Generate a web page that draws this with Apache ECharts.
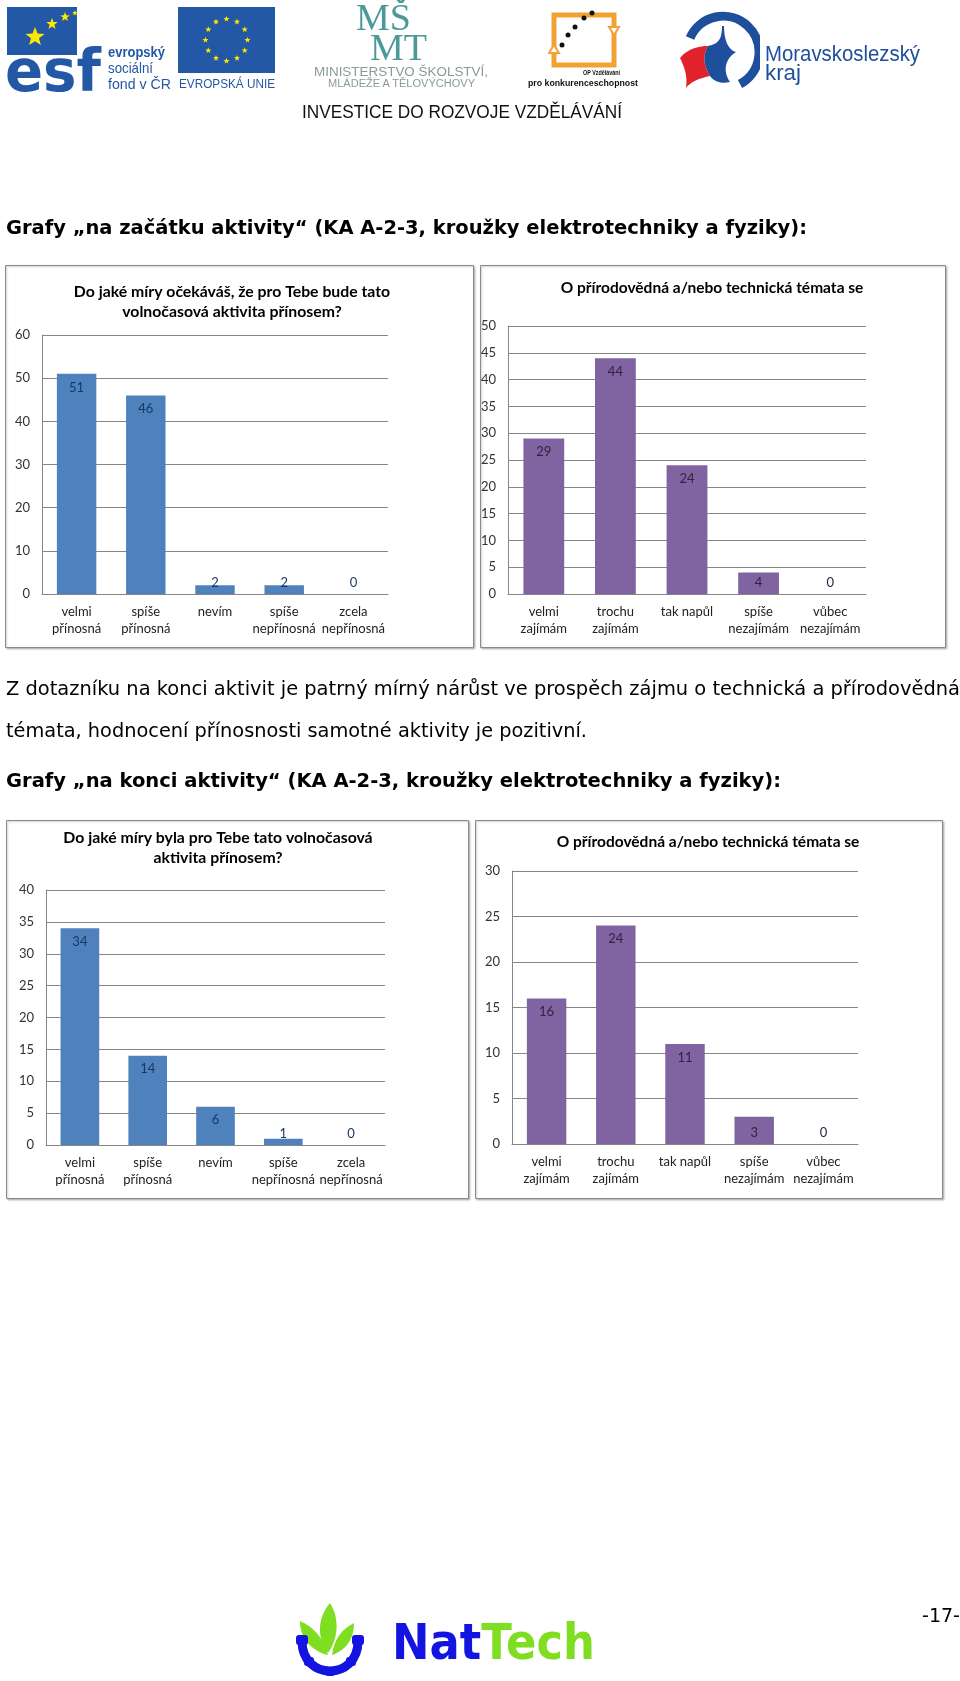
<!DOCTYPE html>
<html>
<head>
<meta charset="utf-8">
<script src="https://cdn.jsdelivr.net/npm/echarts@6/dist/echarts.min.js"></script>
<style>
  html, body { margin: 0; padding: 0; background: #fff; }
  #page { position: relative; width: 960px; height: 1681px; overflow: hidden; background: #fff; }
  #chart { position: absolute; left: 0; top: 0; width: 960px; height: 1681px; }
  .t { position: absolute; white-space: nowrap; transform-origin: 0 50%; display: inline-block; }
  svg { position: absolute; }
</style>
</head>
<body>
<div id="page">
  <div id="chart"></div>
</div>
<script>
// ---------------- DATA ----------------
const title1 = 'Do jaké míry očekáváš, že pro Tebe bude tato\nvolnočasová aktivita přínosem?';
const title2 = 'O přírodovědná a/nebo technická témata se';
const title3 = 'Do jaké míry byla pro Tebe tato volnočasová\naktivita přínosem?';
const title4 = 'O přírodovědná a/nebo technická témata se';

const catsBenefit = ['velmi\npřínosná', 'spíše\npřínosná', 'nevím', 'spíše\nnepřínosná', 'zcela\nnepřínosná'];
const catsInterest = ['velmi\nzajímám', 'trochu\nzajímám', 'tak napůl', 'spíše\nnezajímám', 'vůbec\nnezajímám'];

const valsStartBenefit = [51, 46, 2, 2, 0];
const valsStartInterest = [29, 44, 24, 4, 0];
const valsEndBenefit = [34, 14, 6, 1, 0];
const valsEndInterest = [16, 24, 11, 3, 0];

const yMax = [60, 50, 40, 30];
const yStep = [10, 5, 5, 5];

const heading1 = 'Grafy „na začátku aktivity“ (KA A-2-3, kroužky elektrotechniky a fyziky):';
const para1 = 'Z dotazníku na konci aktivit je patrný mírný nárůst ve prospěch zájmu o technická a přírodovědná';
const para2 = 'témata, hodnocení přínosnosti samotné aktivity je pozitivní.';
const heading2 = 'Grafy „na konci aktivity“ (KA A-2-3, kroužky elektrotechniky a fyziky):';
const pageNo = '-17-';

// ---------------- LAYOUT ----------------
const BLUE = '#4F81BD', PURPLE = '#8064A2';
const panels = [
  { title: title1, cats: catsBenefit, vals: valsStartBenefit, color: BLUE, lbl: '#17375E', fs: 15.8,
    grid: { left: 42, top: 335, width: 346, height: 259 }, box: [5, 265, 468, 382], tx: 232, ty: 282 },
  { title: title2, cats: catsInterest, vals: valsStartInterest, color: PURPLE, lbl: '#2E2340', fs: 15.5,
    grid: { left: 508, top: 326, width: 358, height: 268 }, box: [480, 265, 465, 382], tx: 712, ty: 278 },
  { title: title3, cats: catsBenefit, vals: valsEndBenefit, color: BLUE, lbl: '#17375E', fs: 15.8,
    grid: { left: 46, top: 890, width: 339, height: 255 }, box: [6, 820, 462, 378], tx: 218, ty: 828 },
  { title: title4, cats: catsInterest, vals: valsEndInterest, color: PURPLE, lbl: '#2E2340', fs: 15.5,
    grid: { left: 512, top: 871, width: 346, height: 273 }, box: [475, 820, 467, 378], tx: 708, ty: 832 }
];

const FONT = 'Lato, "Open Sans", sans-serif';
const option = {
  animation: false,
  backgroundColor: 'transparent',
  title: [], grid: [], xAxis: [], yAxis: [], series: [],
  graphic: []
};

panels.forEach((p, i) => {
  option.graphic.push({
    type: 'rect', z: -10, silent: true,
    shape: { x: p.box[0] + 0.5, y: p.box[1] + 0.5, width: p.box[2], height: p.box[3] },
    style: { fill: '#fff', stroke: '#8a8a8a', lineWidth: 1, shadowBlur: 2, shadowColor: 'rgba(0,0,0,0.25)', shadowOffsetX: 1, shadowOffsetY: 1 }
  });
  option.title.push({
    text: p.title, left: p.tx, top: p.ty, textAlign: 'center', padding: 0,
    textStyle: { fontFamily: FONT, fontSize: p.fs, fontWeight: 'bold', color: '#000', lineHeight: 20 }
  });
  option.grid.push(Object.assign({ containLabel: false }, p.grid));
  option.xAxis.push({
    type: 'category', gridIndex: i, data: p.cats,
    axisLine: { lineStyle: { color: '#868686' } },
    axisTick: { show: false },
    axisLabel: { interval: 0, margin: 9, fontFamily: FONT, fontSize: 13, lineHeight: 17, color: '#222' }
  });
  option.yAxis.push({
    type: 'value', gridIndex: i, min: 0, max: yMax[i], interval: yStep[i],
    axisLine: { show: true, lineStyle: { color: '#868686' } },
    axisTick: { show: false },
    splitLine: { lineStyle: { color: '#868686' } },
    axisLabel: { margin: 12, fontFamily: FONT, fontSize: 13, color: '#333' }
  });
  option.series.push({
    type: 'bar', xAxisIndex: i, yAxisIndex: i, barCategoryGap: '43%',
    itemStyle: { color: p.color },
    label: { show: true, fontFamily: FONT, fontSize: 13, color: p.lbl },
    data: p.vals.map(v => ({
      value: v,
      label: (v / yMax[i] < 0.12) ? { position: 'insideBottom', distance: 5 } : { position: 'insideTop', distance: 7 }
    }))
  });
});

const chart = echarts.init(document.getElementById('chart'), null, { renderer: 'canvas' });
chart.setOption(option);

// ---------------- PAGE TEXT ----------------
const page = document.getElementById('page');
function addText(txt, x, cy, w, font, size, weight, color) {
  const d = document.createElement('div');
  d.className = 't';
  d.textContent = txt;
  d.style.left = x + 'px';
  d.style.fontFamily = font;
  d.style.fontSize = size + 'px';
  d.style.fontWeight = weight;
  d.style.color = color;
  d.style.lineHeight = Math.round(size * 1.2) + 'px';
  d.style.top = (cy - size * 0.6) + 'px';
  page.appendChild(d);
  const bw = d.getBoundingClientRect().width;
  if (w && bw > 0) d.style.transform = 'scaleX(' + (w / bw) + ')';
  return d;
}
const DV = '"DejaVu Sans", Verdana, sans-serif';
const NARROW = '"Liberation Sans Narrow", "Liberation Sans", Arial, sans-serif';
addText(heading1, 6, 227, 801, DV, 19, 'bold', '#000');
addText(para1, 6, 688, 954, DV, 19, 'normal', '#000');
addText(para2, 6, 730, 581, DV, 19, 'normal', '#000');
addText(heading2, 6, 780, 775, DV, 19, 'bold', '#000');
addText(pageNo, 922, 1615, 38, DV, 19, 'normal', '#000');

// header texts
addText('evropský', 108, 52, 57, NARROW, 15, 'bold', '#2358A6');
addText('sociální', 108, 68, 45, NARROW, 15, 'normal', '#2358A6');
addText('fond v ČR', 108, 84, 63, NARROW, 15, 'normal', '#2358A6');
addText('EVROPSKÁ UNIE', 179, 84, 96, NARROW, 13, 'normal', '#2358A6');
addText('MINISTERSTVO ŠKOLSTVÍ,', 314, 72, 174, '"Liberation Sans", Arial, sans-serif', 12, 'normal', '#8a9a9a');
addText('MLÁDEŽE A TĚLOVÝCHOVY', 328, 84, 147, '"Liberation Sans", Arial, sans-serif', 10, 'normal', '#8a9a9a');
addText('OP Vzdělávání', 583, 73, 37, '"Liberation Sans", Arial, sans-serif', 8, 'bold', '#111');
addText('pro konkurenceschopnost', 528, 83, 110, '"Liberation Sans", Arial, sans-serif', 9, 'bold', '#111');
addText('Moravskoslezský', 765, 54, 155, '"Liberation Sans", Arial, sans-serif', 22, 'normal', '#1E4F9C');
addText('kraj', 765, 73, 36, '"Liberation Sans", Arial, sans-serif', 22, 'normal', '#1E4F9C');
addText('INVESTICE DO ROZVOJE VZDĚLÁVÁNÍ', 302, 111, 320, NARROW, 19, 'normal', '#111');

// NatTech text
const nt = document.createElement('div');
nt.className = 't';
nt.innerHTML = '<span style="color:#1414E0">Nat</span><span style="color:#7FDD22">Tech</span>';
nt.style.left = '392px'; nt.style.top = '1612px';
nt.style.fontFamily = DV; nt.style.fontWeight = 'bold'; nt.style.fontSize = '50px'; nt.style.lineHeight = '60px';
page.appendChild(nt);
const ntw = nt.getBoundingClientRect().width;
nt.style.transform = 'scaleX(' + (203 / ntw) + ')';

// logos (simple vector approximations)
function svg(x, y, w, h, inner) {
  const s = document.createElementNS('http://www.w3.org/2000/svg', 'svg');
  s.setAttribute('width', w); s.setAttribute('height', h);
  s.style.left = x + 'px'; s.style.top = y + 'px';
  s.innerHTML = inner;
  page.appendChild(s);
}
function stars(cx, cy, r, n, size, color) {
  let out = '';
  for (let k = 0; k < n; k++) {
    const a = (k / n) * Math.PI * 2;
    out += starPath(cx + r * Math.sin(a), cy - r * Math.cos(a), size, color);
  }
  return out;
}
function starPath(cx, cy, s, color) {
  let pts = [];
  for (let k = 0; k < 10; k++) {
    const rr = k % 2 === 0 ? s : s * 0.42;
    const a = Math.PI / 5 * k;
    pts.push((cx + rr * Math.sin(a)).toFixed(1) + ',' + (cy - rr * Math.cos(a)).toFixed(1));
  }
  return '<polygon points="' + pts.join(' ') + '" fill="' + color + '"/>';
}
// ESF
svg(5, 5, 100, 88,
  '<rect x="2" y="2" width="70" height="48" fill="#2358A6"/>' +
  starPath(30, 32, 10, '#FFE800') + starPath(47, 19, 6, '#FFE800') + starPath(60, 12, 5, '#FFE800') + starPath(70, 8, 3, '#FFE800') +
  '<text x="0" y="86" font-family="DejaVu Sans, sans-serif" font-weight="bold" font-size="58" fill="#2358A6" textLength="96" lengthAdjust="spacingAndGlyphs">esf</text>');
// EU flag
svg(178, 7, 97, 66,
  '<rect x="0" y="0" width="97" height="66" fill="#2358A6"/>' + stars(48.5, 33, 21, 12, 3.2, '#FFE800'));
// MSMT
svg(350, 0, 100, 64,
  '<text x="6" y="30" font-family="Liberation Serif, serif" font-size="38" fill="#4A9A9A">MŠ</text>' +
  '<text x="20" y="60" font-family="Liberation Serif, serif" font-size="38" fill="#4A9A9A">MT</text>');
// OP
svg(548, 5, 75, 65,
  '<rect x="6" y="10" width="60" height="50" fill="none" stroke="#F2A233" stroke-width="5"/>' +
  '<polygon points="6,40 1,48 11,48" fill="#fff" stroke="#F2A233" stroke-width="2"/>' +
  '<polygon points="66,30 61,22 71,22" fill="#fff" stroke="#F2A233" stroke-width="2"/>' +
  '<circle cx="14" cy="40" r="2.5" fill="#111"/><circle cx="20" cy="30" r="2.5" fill="#111"/>' +
  '<circle cx="27" cy="22" r="2.5" fill="#111"/><circle cx="36" cy="13" r="2.5" fill="#111"/><circle cx="44" cy="8" r="2.5" fill="#111"/>');
// Moravskoslezsky kraj emblem
svg(678, 10, 82, 80,
  '<path d="M12,28 A36,36 0 1 1 62,74" fill="none" stroke="#1E4F9C" stroke-width="9"/>' +
  '<path d="M2,48 C10,38 22,36 30,36 C24,46 26,56 32,66 C22,68 12,72 8,78 C10,66 6,56 2,48 Z" fill="#E2222A"/>' +
  '<path d="M30,36 C40,34 44,30 44,16 L46,16 C46,30 50,40 58,42 C48,48 44,60 52,72 C44,74 36,72 32,66 C26,56 24,46 30,36 Z" fill="#1E4F9C"/>');
// NatTech icon
svg(292, 1595, 80, 82,
  '<path d="M38,8 C26,22 24,42 36,58 C46,44 48,24 38,8 Z" fill="#7FDD22"/>' +
  '<path d="M8,26 C8,44 20,56 36,60 C32,44 22,32 8,26 Z" fill="#7FDD22"/>' +
  '<path d="M62,28 C62,46 52,56 40,60 C42,44 50,34 62,28 Z" fill="#7FDD22"/>' +
  '<path d="M10,46 C10,66 24,76 38,76 C52,76 66,66 66,46" fill="none" stroke="#1414E0" stroke-width="9"/>' +
  '<rect x="4" y="40" width="12" height="10" rx="3" fill="#1414E0"/><rect x="60" y="40" width="12" height="10" rx="3" fill="#1414E0"/>' +
  '<rect x="33" y="72" width="10" height="9" rx="3" fill="#1414E0"/><rect x="12" y="62" width="10" height="9" rx="3" fill="#1414E0"/><rect x="54" y="62" width="10" height="9" rx="3" fill="#1414E0"/>');
</script>
</body>
</html>
